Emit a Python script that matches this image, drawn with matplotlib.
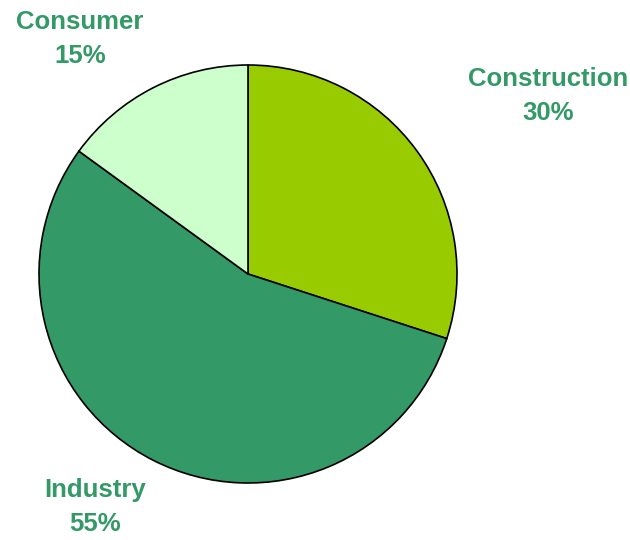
import matplotlib
matplotlib.use("Agg")
import matplotlib.pyplot as plt

categories = ["Construction", "Industry", "Consumer"]
shares = [30, 55, 15]
colors = ["#99CC00", "#339966", "#CCFFCC"]

# label anchor points in pixel coords (x, y from top)
label_pos = [(548, 96), (95, 507), (80, 39)]

W, H = 630, 540
fig = plt.figure(figsize=(W / 100, H / 100), dpi=100)
ax = fig.add_axes([0, 0, 1, 1])

ax.pie(shares, colors=colors, startangle=90, counterclock=False,
       center=(248, H - 274), radius=209, frame=True,
       wedgeprops=dict(edgecolor="black", linewidth=1.2))
ax.set_xlim(0, W)
ax.set_ylim(0, H)
ax.set_aspect("equal")
ax.axis("off")

for cat, val, (x, y) in zip(categories, shares, label_pos):
    ax.text(x, H - y, f"{cat}\n{val}%", ha="center", va="center",
            fontsize=18.5, fontweight="bold", color="#339966",
            family="Liberation Sans", linespacing=1.5)

fig.savefig("out.png", dpi=100)
